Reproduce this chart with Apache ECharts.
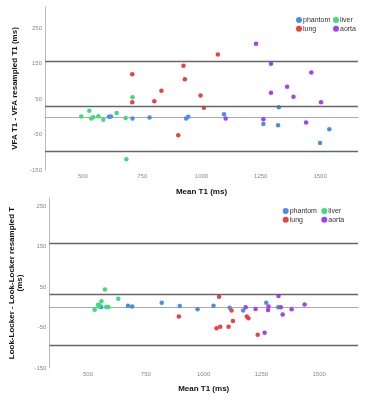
<!DOCTYPE html>
<html>
<head>
<meta charset="utf-8">
<script src="https://cdn.jsdelivr.net/npm/echarts@6/dist/echarts.min.js"></script>
<style>
  html, body { margin: 0; padding: 0; background: #fff; }
  #chart { width: 373px; height: 400px; }
</style>
</head>
<body>
<div id="chart"></div>
<script>
// groups and their colours
var groups = ['phantom', 'liver', 'lung', 'aorta'];
var colors = ['#4a8fe7', '#3fdd78', '#e94242', '#a241ef'];

// tick labels
var xTicks = [500, 750, 1000, 1250, 1500];
var yTicks = [-150, -50, 50, 150, 250];

// top panel: VFA T1 vs resampled, [mean T1, difference]
var vfaPhantom = [[709, -5], [610, 0], [618, 1], [781, -2], [935, -5], [944, 0], [1095, 7], [1261, -20], [1326, 27], [1323, -24], [1500, -74], [1539, -35]];
var vfaLiver = [[493, 1], [527, 17], [535, -5], [543, -1], [565, 2], [586, -8], [642, 11], [680, -3], [709, 55], [683, -120]];
var vfaLung = [[708, 120], [708, 41], [801, 44], [831, 74], [902, -52], [924, 144], [930, 106], [996, 60], [1010, 26], [1069, 176]];
var vfaAorta = [[1230, 206], [1102, -5], [1261, -7], [1293, 150], [1293, 68], [1361, 85], [1388, 57], [1441, -16], [1463, 125], [1504, 41]];
var vfaLimits = [156, 30, -96];

// bottom panel: Look-Locker vs resampled
var llPhantom = [[557, 1], [673, 4], [691, 2], [819, 11], [897, 3], [974, -5], [1043, 4], [1113, -1], [1171, -8], [1271, 11], [1323, 0]];
var llLiver = [[529, -6], [544, 6], [547, 2], [550, 5], [558, 15], [573, 44], [579, 1], [588, 1], [631, 21]];
var llLung = [[893, -23], [1067, 26], [1056, -52], [1072, -48], [1108, -48], [1121, -8], [1127, -34], [1187, -23], [1194, -27], [1234, -68]];
var llAorta = [[1182, 0], [1225, -4], [1264, -63], [1279, -7], [1281, 2], [1324, 28], [1334, 0], [1342, -18], [1381, -5], [1437, 7]];
var llLimits = [157, 31, -95];

var font = 'Liberation Sans, Arial, sans-serif';
var myChart = echarts.init(document.getElementById('chart'));

function plain(v) { return String(v); }

function xAxis(idx, min, max, gap) {
    return {
        type: 'value', gridIndex: idx, min: min, max: max,
        name: 'Mean T1 (ms)', nameLocation: 'middle', nameGap: gap,
        nameTextStyle: { fontFamily: font, fontSize: 8, fontWeight: 'bold', color: '#111' },
        axisLine: { lineStyle: { color: '#aaa', width: 1 } },
        axisTick: { show: false },
        splitLine: { show: false },
        axisLabel: { customValues: xTicks, formatter: plain, fontFamily: font, fontSize: 6, color: '#888', margin: 3 }
    };
}

function yAxis(idx, min, max, name, gap) {
    return {
        type: 'value', gridIndex: idx, min: min, max: max,
        name: name, nameLocation: 'middle', nameGap: gap,
        nameTextStyle: { fontFamily: font, fontSize: 8, fontWeight: 'bold', color: '#111', lineHeight: 7.5 },
        axisLine: { show: true, lineStyle: { color: '#bbb', width: 1 } },
        axisTick: { show: false },
        splitLine: { show: false },
        axisLabel: { customValues: yTicks, formatter: plain, fontFamily: font, fontSize: 6, color: '#888', margin: 3 }
    };
}

function legend(names, left, top) {
    return {
        orient: 'vertical', left: left, top: top,
        data: names, icon: 'circle',
        itemWidth: 6, itemHeight: 6, itemGap: 0.7,
        textStyle: { fontFamily: font, fontSize: 7, color: '#333', lineHeight: 8, padding: [0, 0, 0, -4] }
    };
}

function scatter(name, data, idx, color) {
    return {
        name: name, type: 'scatter', xAxisIndex: idx, yAxisIndex: idx,
        data: data, symbolSize: 4.5,
        itemStyle: { color: color, opacity: 1 }
    };
}

function limitLines(idx, values) {
    return {
        type: 'scatter', xAxisIndex: idx, yAxisIndex: idx, data: [], silent: true,
        markLine: {
            silent: true, symbol: 'none', animation: false,
            label: { show: false },
            lineStyle: { color: '#666', width: 1.3, type: 'solid' },
            data: values.map(function (v) { return { yAxis: v }; })
        }
    };
}

var topSets = [vfaPhantom, vfaLiver, vfaLung, vfaAorta];
var bottomSets = [llPhantom, llLiver, llLung, llAorta];

var series = [limitLines(0, vfaLimits), limitLines(1, llLimits)];
groups.forEach(function (g, i) {
    series.push(scatter(g, topSets[i], 0, colors[i]));
    series.push(scatter(g, bottomSets[i], 1, colors[i]));
});

myChart.setOption({
    animation: false,
    color: colors,
    grid: [
        { left: 45, top: 7, width: 313, height: 163 },
        { left: 47, top: 198, width: 311, height: 170 }
    ],
    xAxis: [xAxis(0, 340, 1660, 18), xAxis(1, 333, 1668, 17)],
    yAxis: [
        yAxis(0, -150, 310, 'VFA T1 - VFA resampled T1 (ms)', 22),
        yAxis(1, -150, 270, 'Look-Locker - Look-Locker resampled T\n(ms)', 23)
    ],
    legend: [
        legend(['phantom', 'lung'], 291, 11),
        legend(['liver', 'aorta'], 328, 11),
        legend(['phantom', 'lung'], 277.7, 202),
        legend(['liver', 'aorta'], 316.3, 202)
    ],
    series: series
});
</script>
</body>
</html>
